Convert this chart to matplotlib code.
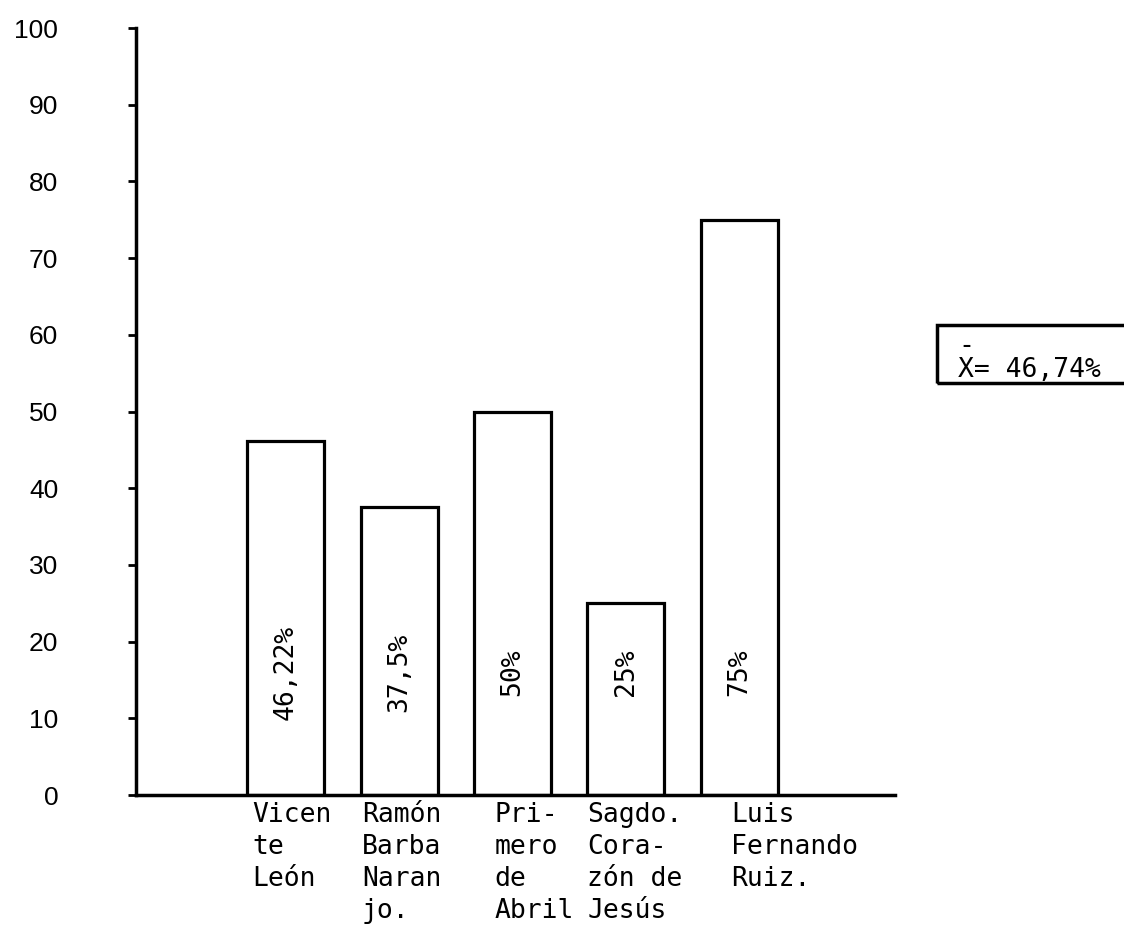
import matplotlib
matplotlib.use("Agg")
import matplotlib.pyplot as plt
from matplotlib.patches import Rectangle
import numpy as np

# schools and percentages
schools = ["Vicen\nte\nLeón", "Ramón\nBarba\nNaran\njo.", "Pri-\nmero\nde\nAbril",
           "Sagdo.\nCora-\nzón de\nJesús", "Luis\nFernando\nRuiz."]
values = [46.22, 37.5, 50, 25, 75]
value_labels = ["46,22%", "37,5%", "50%", "25%", "75%"]
y_ticks = [0, 10, 20, 30, 40, 50, 60, 70, 80, 90, 100]

mono = "DejaVu Sans Mono"
sans = "Liberation Sans"


def main():
    fig = plt.figure(figsize=(11.24, 9.25), dpi=100)
    ax = fig.add_axes([0.121, 0.1405, 0.675, 0.8292])

    x = np.arange(1, len(values) + 1)
    width = 0.68
    ax.bar(x, values, width=width, color="white", edgecolor="black", linewidth=2.3)

    for xi, lab in zip(x, value_labels):
        ax.text(xi, 16, lab, rotation=90, ha="center", va="center",
                family=mono, fontsize=19)

    # typewriter indents of the category labels, in points
    indent = [4, 1, 15, 0, 22]
    for xi, name, dx in zip(x, schools, indent):
        ax.annotate(name, (xi - width / 2, 0), xytext=(dx, -5), textcoords="offset points",
                    ha="left", va="top", family=mono, fontsize=19, linespacing=1.3)

    ax.set_xlim(-0.32, 6.37)
    ax.set_ylim(0, 100)
    ax.set_yticks(y_ticks)
    ax.set_yticklabels([str(t) for t in y_ticks], family=sans, fontsize=19)
    ax.set_xticks([])
    ax.tick_params(axis="y", length=6, width=2, pad=50)

    for side in ["top", "right"]:
        ax.spines[side].set_visible(False)
    for side in ["left", "bottom"]:
        ax.spines[side].set_linewidth(2.5)

    # mean box on the right, cut off by the page edge
    mean = np.mean(values)
    box = Rectangle((937 / 1124, 1 - 383 / 925), 0.2, 58 / 925, transform=fig.transFigure,
                    fill=False, edgecolor="black", linewidth=2.5, clip_on=False)
    fig.patches.append(box)
    fig.text(958 / 1124, 1 - 383 / 925, "-\nX= " + f"{mean:.2f}".replace(".", ",") + "%",
             family=mono, fontsize=19, ha="left", va="bottom", linespacing=0.9)

    fig.savefig("out.png", dpi=100)


if __name__ == "__main__":
    main()
